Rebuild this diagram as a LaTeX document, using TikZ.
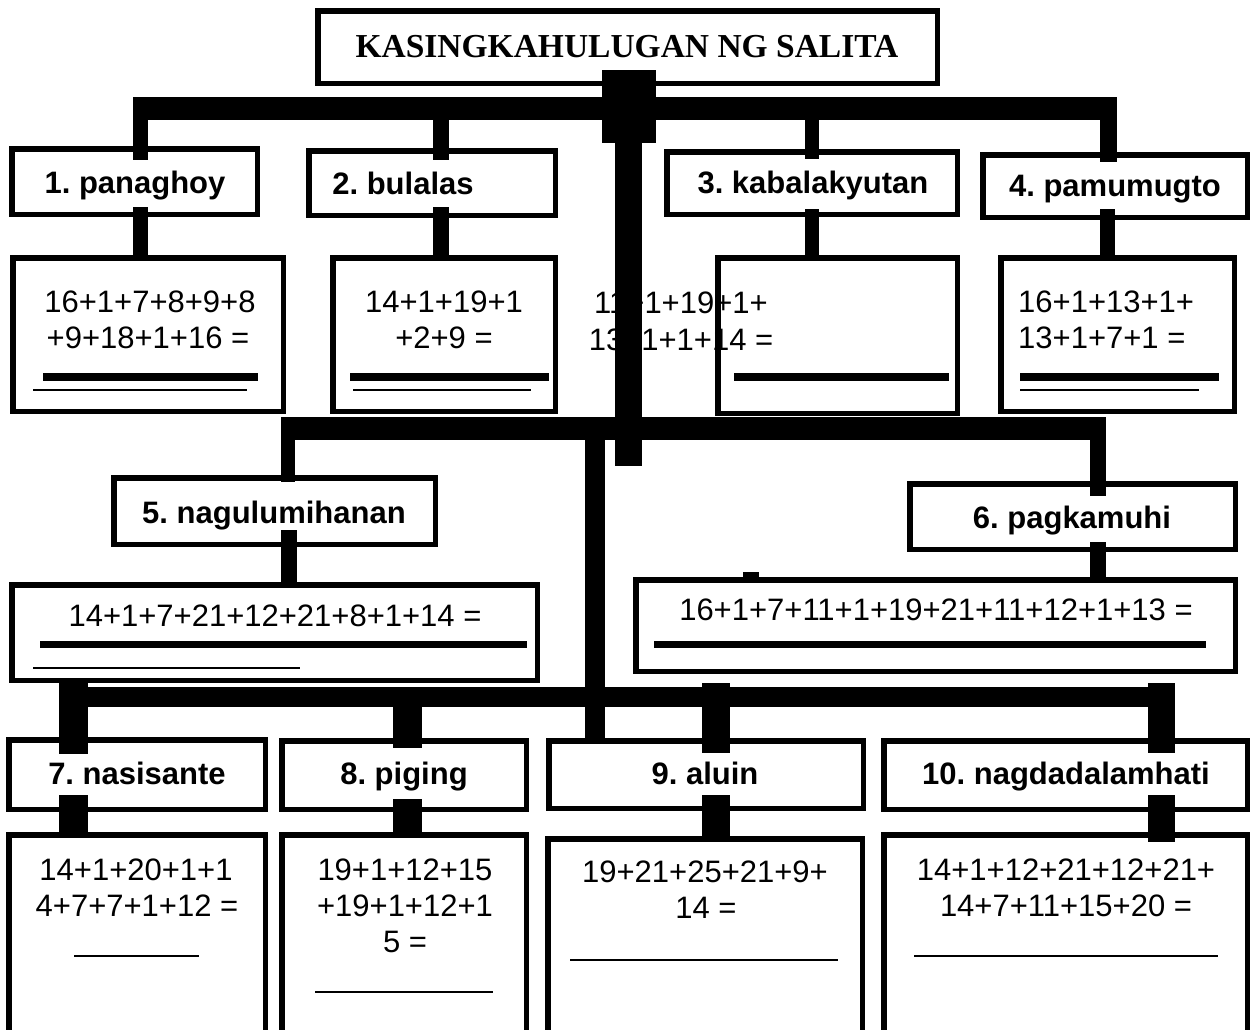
\documentclass[tikz,border=0pt]{standalone}
\usepackage{fontspec}
\setmainfont{Liberation Sans}
\newfontfamily\titlefont{Liberation Serif}
\frenchspacing
\newcommand\frm[5]{\node[frame, minimum width={#4-#2-5.5}, minimum height={#5-#3-5.5}] (#1) at ({(#2+#4)/2},{(#3+#5)/2}) {};}
\newcommand\vlink[5]{\coordinate (#1-a) at (#2,#3); \coordinate (#1-b) at (#2,#4); \draw[conn, line width=#5pt] (#1-a) -- (#1-b);}
\newcommand\hlink[5]{\coordinate (#1-a) at (#3,#2); \coordinate (#1-b) at (#4,#2); \draw[conn, line width=#5pt] (#1-a) -- (#1-b);}
\begin{document}
\frenchspacing
\begin{tikzpicture}[x=1pt,y=-1pt,
  frame/.style={draw=black, line width=5.5pt, inner sep=0pt, outer sep=0pt},
  num/.style={font=\fontsize{31}{37}\selectfont, anchor=base, inner sep=0pt},
  lbl/.style={font=\bfseries\fontsize{31}{37}\selectfont, anchor=base, inner sep=0pt},
  conn/.style={draw=black, line cap=butt},
  ansline/.style={draw=black, line width=7.5pt, line cap=butt},
  blankline/.style={draw=black, line width=2pt, line cap=butt}]
\useasboundingbox (0,0) rectangle (1251,1029);
\clip (0,0) rectangle (1251,1029);
% text of item 3, partly hidden by the spine and frame
\node[num] (a3l1) at (681,313) {11+1+19+1+};
\node[num] (a3l2) at (681,350) {13+1+1+14 =};
% frames
\frm{title}{315}{8}{940}{86}
\frm{b1}{9}{146}{260}{217}
\frm{b2}{306}{148}{558}{218}
\frm{b3}{664}{149}{960}{217}
\frm{b4}{980}{152}{1250}{220}
\frm{a1}{10}{255}{286}{414}
\frm{a2}{330}{255}{558}{414}
\frm{a3}{715}{255}{960}{416}
\frm{a4}{998}{255}{1237}{414}
\frm{b5}{111}{475}{438}{547}
\frm{a5}{9}{582}{540}{683}
\frm{b6}{907}{481}{1238}{552}
\frm{a6}{633}{577}{1238}{674}
\frm{b7}{6}{737}{268}{812}
\frm{b8}{279}{738}{529}{812}
\frm{b9}{546}{738}{866}{811}
\frm{b10}{881}{738}{1250}{812}
\frm{a7}{6}{832}{268}{1045}
\frm{a8}{279}{832}{529}{1045}
\frm{a9}{545}{836}{865}{1045}
\frm{a10}{881}{832}{1250}{1045}
% title
\node[font=\titlefont\bfseries\fontsize{33.5}{40}\selectfont, anchor=base, inner sep=0pt] (tt) at (627,57) {KASINGKAHULUGAN NG SALITA};
% labels
\node[lbl] (t1) at (135,193) {1. panaghoy};
\node[lbl] (t2) at (403,194) {2. bulalas};
\node[lbl] (t3) at (813,193) {3. kabalakyutan};
\node[lbl] (t4) at (1115,196) {4. pamumugto};
\node[lbl] (t5) at (274,523) {5. nagulumihanan};
\node[lbl] (t6) at (1072,528) {6. pagkamuhi};
\node[lbl] (t7) at (137,784) {7. nasisante};
\node[lbl] (t8) at (404,784) {8. piging};
\node[lbl] (t9) at (705,784) {9. aluin};
\node[lbl] (t10) at (1066,784) {10. nagdadalamhati};
% sums
\node[num] (a1l1) at (150,312) {16+1+7+8+9+8};
\node[num] (a1l2) at (148,348) {+9+18+1+16 =};
\node[num] (a2l1) at (444,312) {14+1+19+1};
\node[num] (a2l2) at (444,348) {+2+9 =};
\node[num, anchor=base west] (a4l1) at (1018,312) {16+1+13+1+};
\node[num, anchor=base west] (a4l2) at (1018,348) {13+1+7+1 =};
\node[num] (a5l1) at (275,626) {14+1+7+21+12+21+8+1+14 =};
\node[num] (a6l1) at (936,620) {16+1+7+11+1+19+21+11+12+1+13 =};
\node[num] (a7l1) at (136,880) {14+1+20+1+1};
\node[num] (a7l2) at (137,916) {4+7+7+1+12 =};
\node[num] (a8l1) at (405,880) {19+1+12+15};
\node[num] (a8l2) at (405,916) {+19+1+12+1};
\node[num] (a8l3) at (405,952) {5 =};
\node[num] (a9l1) at (705,882) {19+21+25+21+9+};
\node[num] (a9l2) at (706,918) {14 =};
\node[num] (a10l1) at (1066,880) {14+1+12+21+12+21+};
\node[num] (a10l2) at (1066,916) {14+7+11+15+20 =};
% answer lines
\draw[ansline] (43,377) -- (258,377);
\draw[blankline] (33,389.5) -- (247,389.5);
\draw[ansline] (350,377) -- (549,377);
\draw[blankline] (353,389.5) -- (531,389.5);
\draw[ansline] (734,377) -- (949,377);
\draw[ansline] (1020,377) -- (1219,377);
\draw[blankline] (1020,389.5) -- (1199,389.5);
\draw[ansline] (40,644.5) -- (527,644.5);
\draw[blankline] (33,668) -- (300,668);
\draw[ansline] (654,644.5) -- (1206,644.5);
\draw[blankline] (74,956) -- (199,956);
\draw[blankline] (315,992) -- (493,992);
\draw[blankline] (570,960) -- (838,960);
\draw[blankline] (914,956) -- (1218,956);
% connectors
\vlink{hub}{629}{70}{143}{54}
\vlink{spine}{628.5}{143}{466}{27}
\hlink{bar1}{108.5}{133}{1117}{23}
\vlink{c1u}{140.5}{97}{160}{15}
\vlink{c2u}{441}{108}{160}{16}
\vlink{c3u}{812}{108}{159}{14}
\vlink{c4u}{1108.5}{97}{162}{17}
\vlink{c1d}{140.5}{207}{257}{15}
\vlink{c2d}{441}{207}{257}{16}
\vlink{c3d}{812}{209}{257}{14}
\vlink{c4d}{1107.5}{209}{257}{15}
\hlink{bar2}{428.5}{281}{1106}{23}
\vlink{c5u}{288}{417}{482}{14}
\vlink{c6u}{1098}{417}{496}{16}
\vlink{c9v}{595}{417}{738}{20}
\vlink{c5d}{289}{530}{583}{16}
\vlink{c6d}{1098}{542}{577}{16}
\fill (743,572) rectangle (759,578);
\hlink{bar3}{697}{59}{1175}{20}
\vlink{c7u}{73.5}{683}{754}{29}
\vlink{c8u}{407.5}{687}{748}{29}
\vlink{c9u}{716}{683}{753}{28}
\vlink{c10u}{1161.5}{683}{753}{27}
\vlink{c7d}{73.5}{795}{833}{29}
\vlink{c8d}{407.5}{799}{833}{29}
\vlink{c9d}{716}{795}{842}{28}
\vlink{c10d}{1161.5}{795}{842}{27}
\end{tikzpicture}
\end{document}
